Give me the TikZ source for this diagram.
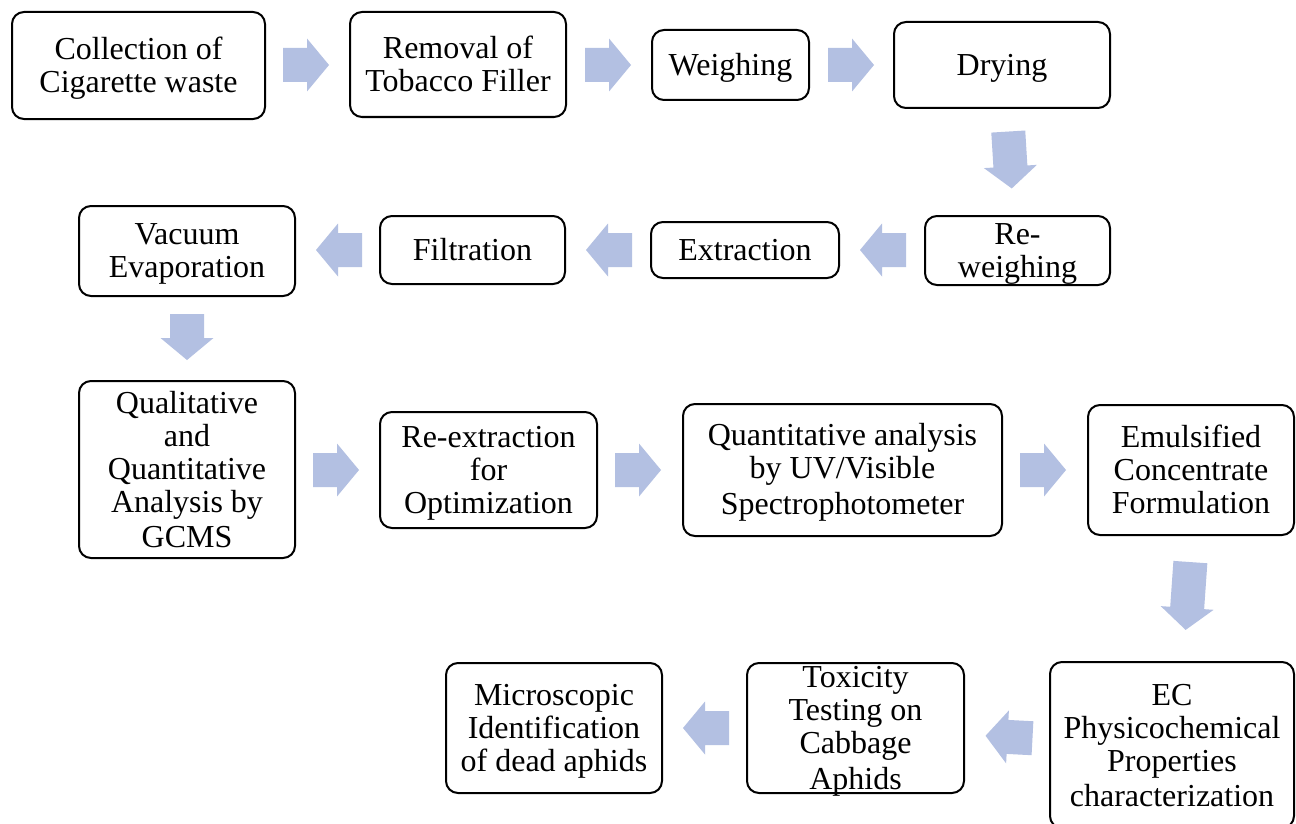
\documentclass[tikz,border=0pt]{standalone}
\usepackage{fontspec}
\setmainfont{Liberation Serif}
\definecolor{arrowfill}{RGB}{179,192,226}
\newcommand{\linestrut}{\rule[-4.15pt]{0pt}{24.75pt}}
\tikzset{
  box/.style 2 args={draw, line width=1.5pt, rounded corners=9pt, align=flush center,
    inner xsep=0pt, inner ysep=-30pt, minimum width=#1*0.75pt, minimum height=#2*0.75pt,
    text width=#1*0.75pt-6pt,
    font=\fontsize{24}{24.75}\selectfont,
    execute at begin node=\linestrut, execute at end node=\linestrut},
  pics/barr/.style={code={
    \fill[arrowfill] ({-#1/2},-17) -- ({#1/2-22},-17) -- ({#1/2-22},-26.5) -- ({#1/2},0)
      -- ({#1/2-22},26.5) -- ({#1/2-22},17) -- ({-#1/2},17) -- cycle;
  }}
}
\begin{document}
\begin{tikzpicture}[x=0.75pt,y=-0.75pt]
\clip (0,0) rectangle (1296,824);
\fill[white] (0,0) rectangle (1296,824);
% boxes
\node[box={253}{107}] (n1) at (138.5,65.5) {Collection of\\Cigarette waste};
\node[box={216}{105}] (n2) at (458,64.5) {Removal of\\Tobacco Filler};
\node[box={157}{70}] (n3) at (730.5,65) {Weighing};
\node[box={216}{86}] (n4) at (1002,65) {Drying};
\node[box={185}{69}] (n5) at (1017.5,250.5) {Re-\\weighing};
\node[box={188}{56}] (n6) at (745,250) {Extraction};
\node[box={185}{68}] (n7) at (472.5,250) {Filtration};
\node[box={216}{90}] (n8) at (187,251) {Vacuum\\Evaporation};
\node[box={216}{177}] (n9) at (187,469.5) {Qualitative\\and\\Quantitative\\Analysis by\\GCMS};
\node[box={217}{116}] (n10) at (488.5,470) {Re-extraction\\for\\Optimization};
\node[box={319}{132}] (n11) at (842.5,470) {Quantitative analysis\\by UV/Visible\\Spectrophotometer};
\node[box={206}{130}] (n12) at (1191,470) {Emulsified\\Concentrate\\Formulation};
\node[box={244}{166}] (n13) at (1172,745) {EC\\Physicochemical\\Properties\\characterization};
\node[box={217}{130}] (n14) at (855.5,728) {Toxicity\\Testing on\\Cabbage\\Aphids};
\node[box={216}{130}] (n15) at (554,728) {Microscopic\\Identification\\of dead aphids};
% block arrows
\pic at (306,65) {barr=46};
\pic at (608,65) {barr=46};
\pic at (851,65) {barr=46};
\pic[rotate=-86.5] at (1010,160) {barr=57};
\pic[rotate=180] at (883,250) {barr=46};
\pic[rotate=180] at (609,250) {barr=46};
\pic[rotate=180] at (339,250) {barr=46};
\pic[rotate=-90] at (187,337) {barr=46};
\pic at (336,470) {barr=46};
\pic at (638,470) {barr=46};
\pic at (1043,470) {barr=46};
\pic[rotate=-94] at (1188,596) {barr=68};
\pic[rotate=177] at (1009,737) {barr=47};
\pic[rotate=180] at (706,728) {barr=46};
\end{tikzpicture}
\end{document}
